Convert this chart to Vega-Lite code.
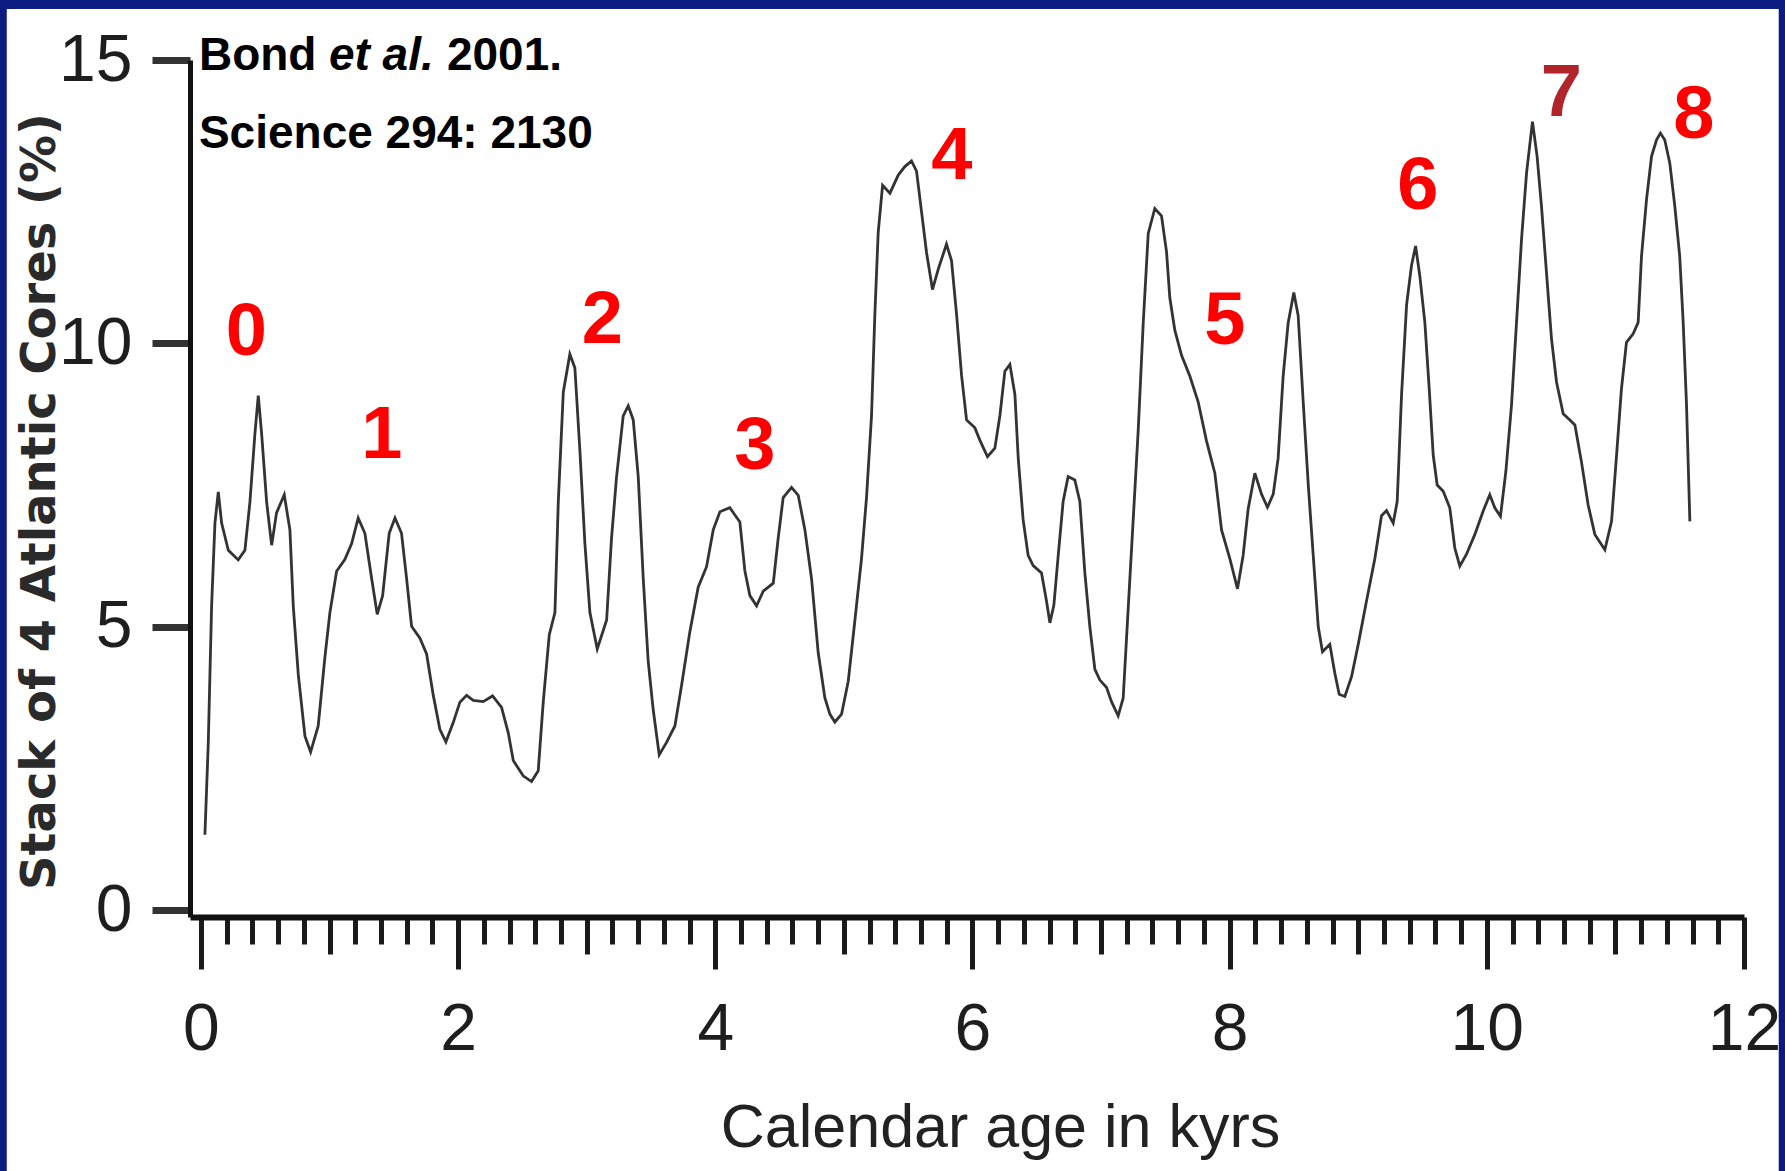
{
  "$schema": "https://vega.github.io/schema/vega-lite/v6.json",
  "autosize": "none",
  "width": 1554,
  "height": 857,
  "padding": {"left": 190, "top": 60, "right": 41, "bottom": 254},
  "background": "#0b1b80",
  "config": {
    "view": {"stroke": null},
    "font": "Liberation Sans, sans-serif"
  },
  "datasets": {
    "stack": [
      {"age": 0.031, "pct": 1.33}, {"age": 0.057, "pct": 2.94}, {"age": 0.083, "pct": 5.37}, {"age": 0.109, "pct": 6.83},
      {"age": 0.135, "pct": 7.38}, {"age": 0.161, "pct": 6.83}, {"age": 0.213, "pct": 6.35}, {"age": 0.29, "pct": 6.18},
      {"age": 0.342, "pct": 6.35}, {"age": 0.381, "pct": 7.2}, {"age": 0.42, "pct": 8.41}, {"age": 0.446, "pct": 9.08},
      {"age": 0.472, "pct": 8.41}, {"age": 0.511, "pct": 7.2}, {"age": 0.55, "pct": 6.44}, {"age": 0.588, "pct": 7.01},
      {"age": 0.648, "pct": 7.33}, {"age": 0.692, "pct": 6.71}, {"age": 0.718, "pct": 5.37}, {"age": 0.757, "pct": 4.16},
      {"age": 0.809, "pct": 3.07}, {"age": 0.853, "pct": 2.79}, {"age": 0.912, "pct": 3.25}, {"age": 0.964, "pct": 4.46},
      {"age": 1.003, "pct": 5.25}, {"age": 1.055, "pct": 5.98}, {"age": 1.12, "pct": 6.19}, {"age": 1.172, "pct": 6.47},
      {"age": 1.223, "pct": 6.92}, {"age": 1.275, "pct": 6.65}, {"age": 1.327, "pct": 5.86}, {"age": 1.371, "pct": 5.22},
      {"age": 1.413, "pct": 5.55}, {"age": 1.464, "pct": 6.65}, {"age": 1.509, "pct": 6.92}, {"age": 1.56, "pct": 6.65},
      {"age": 1.599, "pct": 5.86}, {"age": 1.638, "pct": 5.01}, {"age": 1.703, "pct": 4.8}, {"age": 1.755, "pct": 4.52},
      {"age": 1.807, "pct": 3.79}, {"age": 1.858, "pct": 3.19}, {"age": 1.905, "pct": 2.97}, {"age": 1.962, "pct": 3.31},
      {"age": 2.014, "pct": 3.67}, {"age": 2.066, "pct": 3.79}, {"age": 2.118, "pct": 3.7}, {"age": 2.195, "pct": 3.68},
      {"age": 2.268, "pct": 3.78}, {"age": 2.338, "pct": 3.58}, {"age": 2.39, "pct": 3.13}, {"age": 2.429, "pct": 2.64},
      {"age": 2.506, "pct": 2.37}, {"age": 2.571, "pct": 2.27}, {"age": 2.623, "pct": 2.46}, {"age": 2.662, "pct": 3.67},
      {"age": 2.709, "pct": 4.86}, {"age": 2.753, "pct": 5.25}, {"age": 2.779, "pct": 7.2}, {"age": 2.818, "pct": 9.14},
      {"age": 2.869, "pct": 9.81}, {"age": 2.908, "pct": 9.57}, {"age": 2.947, "pct": 8.11}, {"age": 2.986, "pct": 6.47},
      {"age": 3.025, "pct": 5.25}, {"age": 3.082, "pct": 4.61}, {"age": 3.155, "pct": 5.12}, {"age": 3.193, "pct": 6.56},
      {"age": 3.232, "pct": 7.64}, {"age": 3.284, "pct": 8.72}, {"age": 3.323, "pct": 8.9}, {"age": 3.362, "pct": 8.65},
      {"age": 3.401, "pct": 7.64}, {"age": 3.44, "pct": 5.84}, {"age": 3.478, "pct": 4.4}, {"age": 3.517, "pct": 3.54},
      {"age": 3.564, "pct": 2.74}, {"age": 3.621, "pct": 2.96}, {"age": 3.686, "pct": 3.25}, {"age": 3.738, "pct": 3.97},
      {"age": 3.802, "pct": 4.91}, {"age": 3.867, "pct": 5.7}, {"age": 3.932, "pct": 6.06}, {"age": 3.984, "pct": 6.71},
      {"age": 4.036, "pct": 7.03}, {"age": 4.113, "pct": 7.1}, {"age": 4.191, "pct": 6.85}, {"age": 4.23, "pct": 5.99},
      {"age": 4.269, "pct": 5.55}, {"age": 4.321, "pct": 5.37}, {"age": 4.373, "pct": 5.63}, {"age": 4.451, "pct": 5.77},
      {"age": 4.489, "pct": 6.56}, {"age": 4.528, "pct": 7.28}, {"age": 4.593, "pct": 7.46}, {"age": 4.645, "pct": 7.32},
      {"age": 4.697, "pct": 6.71}, {"age": 4.749, "pct": 5.84}, {"age": 4.8, "pct": 4.55}, {"age": 4.852, "pct": 3.75},
      {"age": 4.891, "pct": 3.46}, {"age": 4.93, "pct": 3.32}, {"age": 4.982, "pct": 3.46}, {"age": 5.034, "pct": 4.04},
      {"age": 5.086, "pct": 5.12}, {"age": 5.137, "pct": 6.2}, {"age": 5.176, "pct": 7.28}, {"age": 5.215, "pct": 8.72},
      {"age": 5.241, "pct": 10.52}, {"age": 5.267, "pct": 11.96}, {"age": 5.301, "pct": 12.79}, {"age": 5.358, "pct": 12.65},
      {"age": 5.423, "pct": 12.97}, {"age": 5.474, "pct": 13.12}, {"age": 5.526, "pct": 13.22}, {"age": 5.565, "pct": 13.04},
      {"age": 5.604, "pct": 12.32}, {"age": 5.643, "pct": 11.6}, {"age": 5.689, "pct": 10.95}, {"age": 5.734, "pct": 11.31},
      {"age": 5.798, "pct": 11.75}, {"age": 5.837, "pct": 11.46}, {"age": 5.876, "pct": 10.52}, {"age": 5.915, "pct": 9.44},
      {"age": 5.954, "pct": 8.65}, {"age": 6.019, "pct": 8.51}, {"age": 6.058, "pct": 8.29}, {"age": 6.117, "pct": 8.0},
      {"age": 6.174, "pct": 8.15}, {"age": 6.213, "pct": 8.72}, {"age": 6.252, "pct": 9.51}, {"age": 6.291, "pct": 9.63},
      {"age": 6.33, "pct": 9.1}, {"age": 6.356, "pct": 7.97}, {"age": 6.394, "pct": 6.89}, {"age": 6.433, "pct": 6.26},
      {"age": 6.472, "pct": 6.08}, {"age": 6.537, "pct": 5.95}, {"age": 6.576, "pct": 5.45}, {"age": 6.602, "pct": 5.07},
      {"age": 6.633, "pct": 5.38}, {"age": 6.667, "pct": 6.26}, {"age": 6.705, "pct": 7.21}, {"age": 6.744, "pct": 7.65},
      {"age": 6.796, "pct": 7.59}, {"age": 6.835, "pct": 7.21}, {"age": 6.874, "pct": 5.95}, {"age": 6.913, "pct": 5.0},
      {"age": 6.952, "pct": 4.25}, {"age": 6.991, "pct": 4.06}, {"age": 7.043, "pct": 3.93}, {"age": 7.081, "pct": 3.68},
      {"age": 7.133, "pct": 3.43}, {"age": 7.172, "pct": 3.74}, {"age": 7.211, "pct": 5.32}, {"age": 7.25, "pct": 6.89},
      {"age": 7.289, "pct": 8.47}, {"age": 7.328, "pct": 10.36}, {"age": 7.367, "pct": 11.94}, {"age": 7.418, "pct": 12.38},
      {"age": 7.47, "pct": 12.25}, {"age": 7.509, "pct": 11.62}, {"age": 7.535, "pct": 10.8}, {"age": 7.574, "pct": 10.23},
      {"age": 7.626, "pct": 9.79}, {"age": 7.691, "pct": 9.42}, {"age": 7.755, "pct": 8.97}, {"age": 7.82, "pct": 8.28},
      {"age": 7.885, "pct": 7.71}, {"age": 7.937, "pct": 6.71}, {"age": 8.002, "pct": 6.2}, {"age": 8.061, "pct": 5.67},
      {"age": 8.105, "pct": 6.26}, {"age": 8.144, "pct": 7.08}, {"age": 8.196, "pct": 7.71}, {"age": 8.248, "pct": 7.34},
      {"age": 8.294, "pct": 7.11}, {"age": 8.339, "pct": 7.34}, {"age": 8.377, "pct": 7.97}, {"age": 8.416, "pct": 9.42},
      {"age": 8.455, "pct": 10.36}, {"age": 8.499, "pct": 10.9}, {"age": 8.533, "pct": 10.49}, {"age": 8.572, "pct": 8.97},
      {"age": 8.611, "pct": 7.52}, {"age": 8.65, "pct": 6.26}, {"age": 8.689, "pct": 5.0}, {"age": 8.722, "pct": 4.56},
      {"age": 8.779, "pct": 4.69}, {"age": 8.818, "pct": 4.18}, {"age": 8.852, "pct": 3.81}, {"age": 8.896, "pct": 3.77},
      {"age": 8.948, "pct": 4.12}, {"age": 9.0, "pct": 4.69}, {"age": 9.064, "pct": 5.45}, {"age": 9.129, "pct": 6.2},
      {"age": 9.181, "pct": 6.96}, {"age": 9.22, "pct": 7.05}, {"age": 9.272, "pct": 6.83}, {"age": 9.303, "pct": 7.21},
      {"age": 9.337, "pct": 9.1}, {"age": 9.376, "pct": 10.68}, {"age": 9.414, "pct": 11.37}, {"age": 9.446, "pct": 11.72},
      {"age": 9.479, "pct": 11.19}, {"age": 9.518, "pct": 10.37}, {"age": 9.552, "pct": 9.2}, {"age": 9.583, "pct": 8.03},
      {"age": 9.614, "pct": 7.5}, {"age": 9.661, "pct": 7.39}, {"age": 9.712, "pct": 7.1}, {"age": 9.751, "pct": 6.39},
      {"age": 9.79, "pct": 6.07}, {"age": 9.842, "pct": 6.28}, {"age": 9.907, "pct": 6.63}, {"age": 9.971, "pct": 7.04},
      {"age": 10.023, "pct": 7.33}, {"age": 10.062, "pct": 7.1}, {"age": 10.106, "pct": 6.95}, {"age": 10.148, "pct": 7.74},
      {"age": 10.192, "pct": 8.91}, {"age": 10.231, "pct": 10.37}, {"age": 10.27, "pct": 11.84}, {"age": 10.309, "pct": 13.01},
      {"age": 10.355, "pct": 13.91}, {"age": 10.391, "pct": 13.3}, {"age": 10.425, "pct": 12.42}, {"age": 10.464, "pct": 11.25},
      {"age": 10.503, "pct": 10.08}, {"age": 10.542, "pct": 9.32}, {"age": 10.594, "pct": 8.76}, {"age": 10.646, "pct": 8.65},
      {"age": 10.685, "pct": 8.56}, {"age": 10.736, "pct": 7.91}, {"age": 10.788, "pct": 7.15}, {"age": 10.84, "pct": 6.63},
      {"age": 10.918, "pct": 6.36}, {"age": 10.97, "pct": 6.86}, {"age": 11.009, "pct": 8.03}, {"age": 11.047, "pct": 9.2},
      {"age": 11.086, "pct": 10.02}, {"age": 11.138, "pct": 10.17}, {"age": 11.177, "pct": 10.37}, {"age": 11.203, "pct": 11.54},
      {"age": 11.242, "pct": 12.54}, {"age": 11.281, "pct": 13.3}, {"age": 11.32, "pct": 13.59}, {"age": 11.35, "pct": 13.71},
      {"age": 11.384, "pct": 13.59}, {"age": 11.423, "pct": 13.18}, {"age": 11.462, "pct": 12.42}, {"age": 11.5, "pct": 11.54},
      {"age": 11.527, "pct": 10.37}, {"age": 11.553, "pct": 8.91}, {"age": 11.579, "pct": 6.86}
    ],
    "events": [
      {"event": "0", "age": 0.354, "level": 9.79},
      {"event": "1", "age": 1.407, "level": 7.98},
      {"event": "2", "age": 3.122, "level": 10.0},
      {"event": "3", "age": 4.308, "level": 7.78},
      {"event": "4", "age": 5.84, "level": 12.9},
      {"event": "5", "age": 7.963, "level": 9.99},
      {"event": "6", "age": 9.463, "level": 12.38},
      {"event": "7", "age": 10.58, "level": 14.01},
      {"event": "8", "age": 11.61, "level": 13.62}
    ],
    "one": [{}]
  },
  "layer": [
    {
      "data": {"name": "one"},
      "mark": {"type": "rect", "fill": "#ffffff", "clip": false},
      "encoding": {
        "x": {"datum": -1.51, "type": "quantitative", "title": "Calendar age in kyrs"},
        "x2": {"datum": 12.27},
        "y": {"datum": 15.9, "type": "quantitative", "title": "Stack of 4 Atlantic Cores (%)"},
        "y2": {"datum": -4.8}
      }
    },
    {
      "data": {"name": "stack"},
      "mark": {"type": "line", "color": "#333333", "strokeWidth": 2.8, "clip": false},
      "encoding": {
        "x": {
          "field": "age",
          "type": "quantitative",
          "title": "Calendar age in kyrs",
          "scale": {"domain": [-0.085, 12.0], "nice": false, "zero": false},
          "axis": {
            "zindex": 1,
            "tickCount": 200,
            "values": [0, 0.2, 0.4, 0.6, 0.8, 1, 1.2, 1.4, 1.6, 1.8, 2, 2.2, 2.4, 2.6, 2.8, 3, 3.2, 3.4, 3.6, 3.8, 4, 4.2, 4.4, 4.6, 4.8, 5, 5.2, 5.4, 5.6, 5.8, 6, 6.2, 6.4, 6.6, 6.8, 7, 7.2, 7.4, 7.6, 7.8, 8, 8.2, 8.4, 8.6, 8.8, 9, 9.2, 9.4, 9.6, 9.8, 10, 10.2, 10.4, 10.6, 10.8, 11, 11.2, 11.4, 11.6, 11.8, 12],
            "grid": false,
            "domainColor": "#111111",
            "domainWidth": 6,
            "tickColor": "#1a1a1a",
            "tickWidth": 5,
            "tickSize": {
              "condition": [
                {"test": "abs(datum.value / 2 - round(datum.value / 2)) < 0.001", "value": 52},
                {"test": "abs(datum.value - round(datum.value)) < 0.001", "value": 37}
              ],
              "value": 27
            },
            "labelExpr": "abs(datum.value / 2 - round(datum.value / 2)) < 0.001 ? format(datum.value, 'd') : ''",
            "labelFlush": false,
            "labelOverlap": false,
            "labelFont": "Liberation Sans",
            "labelFontSize": 66,
            "labelColor": "#1e1e1e",
            "labelPadding": 28,
            "titleFont": "Liberation Sans",
            "titleFontSize": 61,
            "titleFontWeight": "normal",
            "titleColor": "#222222",
            "titleX": 810,
            "titleY": 229,
            "titleAlign": "center",
            "titleBaseline": "alphabetic"
          }
        },
        "y": {
          "field": "pct",
          "type": "quantitative",
          "title": "Stack of 4 Atlantic Cores (%)",
          "scale": {"domain": [-0.12, 15], "nice": false, "zero": false},
          "axis": {
            "zindex": 1,
            "values": [0, 5, 10, 15],
            "format": "d",
            "grid": false,
            "domainColor": "#111111",
            "domainWidth": 5,
            "tickColor": "#333333",
            "tickWidth": 7,
            "tickSize": 38,
            "labelFont": "Liberation Sans",
            "labelFontSize": 66,
            "labelColor": "#1e1e1e",
            "labelPadding": 20,
            "titleFont": "DejaVu Sans",
            "titleFontSize": 48,
            "titleFontWeight": "bold",
            "titleColor": "#2a2a2a",
            "titleAngle": 270,
            "titleX": -136,
            "titleY": 441,
            "titleAlign": "center",
            "titleBaseline": "alphabetic"
          }
        }
      }
    },
    {
      "data": {"name": "events"},
      "mark": {"type": "text", "font": "Liberation Sans", "fontWeight": "bold", "fontSize": 74, "align": "center", "baseline": "alphabetic", "clip": false},
      "encoding": {
        "x": {"field": "age", "type": "quantitative", "title": "Calendar age in kyrs"},
        "y": {"field": "level", "type": "quantitative", "title": "Stack of 4 Atlantic Cores (%)"},
        "text": {"field": "event"},
        "color": {
          "condition": {"test": "datum.event === '7'", "value": "#b0242a"},
          "value": "#ff0000"
        }
      }
    },
    {
      "data": {"name": "one"},
      "mark": {"type": "text", "font": "Liberation Sans", "fontWeight": "bold", "fontSize": 46, "align": "left", "baseline": "alphabetic", "color": "#000000", "text": "Bond", "clip": false},
      "encoding": {
        "x": {"datum": -0.0156, "type": "quantitative", "title": "Calendar age in kyrs"},
        "y": {"datum": 14.82, "type": "quantitative", "title": "Stack of 4 Atlantic Cores (%)"}
      }
    },
    {
      "data": {"name": "one"},
      "mark": {"type": "text", "font": "Liberation Sans", "fontWeight": "bold", "fontStyle": "italic", "fontSize": 46, "align": "left", "baseline": "alphabetic", "color": "#000000", "text": "et al.", "clip": false},
      "encoding": {
        "x": {"datum": 0.995, "type": "quantitative", "title": "Calendar age in kyrs"},
        "y": {"datum": 14.82, "type": "quantitative", "title": "Stack of 4 Atlantic Cores (%)"}
      }
    },
    {
      "data": {"name": "one"},
      "mark": {"type": "text", "font": "Liberation Sans", "fontWeight": "bold", "fontSize": 46, "align": "left", "baseline": "alphabetic", "color": "#000000", "text": "2001.", "clip": false},
      "encoding": {
        "x": {"datum": 1.913, "type": "quantitative", "title": "Calendar age in kyrs"},
        "y": {"datum": 14.82, "type": "quantitative", "title": "Stack of 4 Atlantic Cores (%)"}
      }
    },
    {
      "data": {"name": "one"},
      "mark": {"type": "text", "font": "Liberation Sans", "fontWeight": "bold", "fontSize": 46, "align": "left", "baseline": "alphabetic", "color": "#000000", "text": "Science 294: 2130", "clip": false},
      "encoding": {
        "x": {"datum": -0.0156, "type": "quantitative", "title": "Calendar age in kyrs"},
        "y": {"datum": 13.45, "type": "quantitative", "title": "Stack of 4 Atlantic Cores (%)"}
      }
    }
  ]
}
